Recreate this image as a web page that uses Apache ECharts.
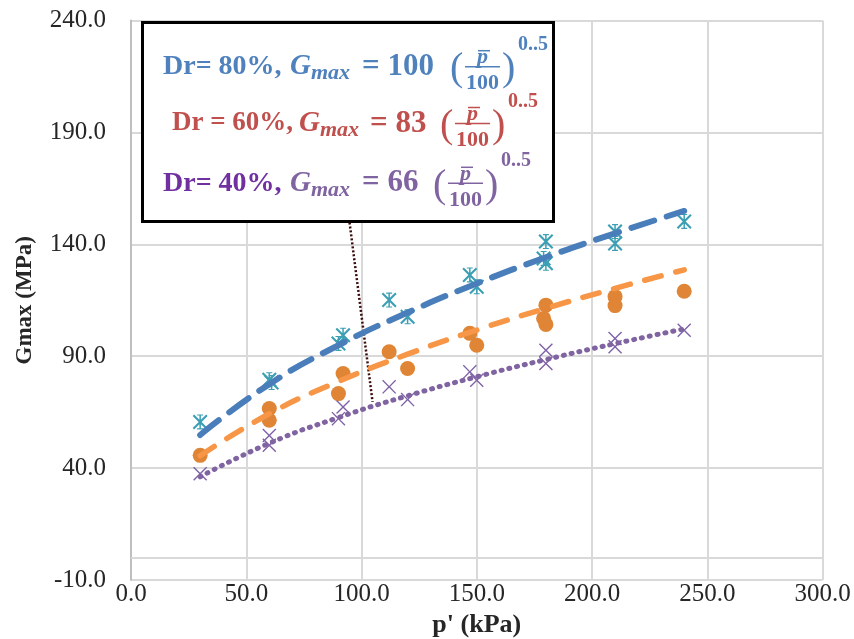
<!DOCTYPE html>
<html>
<head>
<meta charset="utf-8">
<script src="https://cdn.jsdelivr.net/npm/echarts@6/dist/echarts.min.js"></script>
<style>
  html, body { margin: 0; padding: 0; background: #fff; }
  #chart { width: 854px; height: 639px; }
</style>
</head>
<body>
<div id="chart"></div>
<script>
// measured points, [p' (kPa), Gmax (MPa)]
const dr80 = [[30, 60.6], [60, 79.5], [61, 78.2], [90, 95.7], [92, 99.4], [112, 115.1], [120, 107.6],
  [147, 126.3], [150, 121.0], [180, 141.2], [179, 133.7], [180, 131.5], [210, 145.7], [210, 140.4], [240, 150.2]];
const dr60 = [[30, 45.7], [60, 66.6], [60, 61.4], [92, 82.3], [90, 73.3], [112, 92.0], [120, 84.5],
  [147, 100.2], [150, 94.9], [180, 112.8], [179, 106.9], [180, 104.2], [210, 116.6], [210, 112.6], [240, 119.0]];
const dr40 = [[30, 37.5], [60, 54.6], [60, 50.2], [92, 67.3], [90, 62.1], [112, 76.3], [120, 70.6],
  [147, 83.0], [150, 79.3], [180, 92.7], [180, 86.7], [210, 97.9], [210, 94.2], [240, 101.6]];

// fitted curves
const fitP = [30, 60, 90, 120, 150, 180, 210, 240];
const fit80 = [54.8, 77.5, 94.9, 109.5, 122.5, 134.2, 144.9, 154.9];
const fit60 = [45.5, 64.3, 78.7, 90.9, 101.7, 111.4, 120.3, 128.6];
const fit40 = [36.1, 51.1, 62.6, 72.3, 80.8, 88.5, 95.6, 102.2];

// leader line from the label box
const leader = [[94.6, 151.5], [104.8, 69.6]];

const serif = 'Liberation Serif';
const starPath = 'path://M0,2 L2,0 L10,8 L18,0 L20,2 L12,10 L20,18 L18,20 L10,12 L2,20 L0,18 L8,10 Z' +
  ' M9,0 L11,0 L11,20 L9,20 Z M6,0 L14,0 L14,1.5 L6,1.5 Z M6,18.5 L14,18.5 L14,20 L6,20 Z';
const crossPath = 'path://M0,1.4 L1.4,0 L10,8.6 L18.6,0 L20,1.4 L11.4,10 L20,18.6 L18.6,20 L10,11.4 L1.4,20 L0,18.6 L8.6,10 Z';

function txt(x, y, s, font, fill) {
    return { type: 'text', x: x, y: y, z: 60,
        style: { text: s, font: font, fill: fill, textAlign: 'left', textVerticalAlign: 'middle' } };
}

// one equation line of the label box
function eqLine(c) {
    const fx = c.paren + 33;
    return [
        txt(c.drX, c.y, c.dr, `bold ${c.drSize}px "${serif}"`, c.drColor),
        txt(c.gX, c.y, 'G', `italic bold 29px "${serif}"`, c.color),
        txt(c.gX + 21, c.y + 7, 'max', `italic bold 22px "${serif}"`, c.color),
        txt(c.eqX, c.y, c.coef, `bold 31px "${serif}"`, c.color),
        txt(c.paren, c.y + 3, '(', `40px "${serif}"`, c.color),
        txt(fx - 6, c.y - 9, 'p', `italic bold 22px "${serif}"`, c.color),
        { type: 'line', z: 60, shape: { x1: fx - 5, y1: c.y - 16, x2: fx + 7, y2: c.y - 16 },
          style: { stroke: c.color, lineWidth: 1.5 } },
        { type: 'line', z: 60, shape: { x1: fx - 18, y1: c.y, x2: fx + 17, y2: c.y },
          style: { stroke: c.color, lineWidth: 1.5 } },
        txt(fx - 17, c.y + 17, '100', `bold 22px "${serif}"`, c.color),
        txt(c.paren + 52, c.y + 3, ')', `40px "${serif}"`, c.color),
        txt(c.paren + 68, c.y - 22, '0..5', `bold 20px "${serif}"`, c.color)
    ];
}

const box = [
    { type: 'rect', z: 50, shape: { x: 142.5, y: 22.5, width: 411, height: 199 },
      style: { fill: '#ffffff', stroke: '#000000', lineWidth: 3 } }
].concat(
    eqLine({ y: 66.7, drX: 163, dr: 'Dr= 80%,', drSize: 28, gX: 290, eqX: 362, coef: '= 100', paren: 450,
             drColor: '#4f81bd', color: '#4f81bd' }),
    eqLine({ y: 123.5, drX: 172, dr: 'Dr = 60%,', drSize: 27, gX: 299, eqX: 370, coef: '= 83', paren: 440,
             drColor: '#c0504d', color: '#c0504d' }),
    eqLine({ y: 183.3, drX: 163, dr: 'Dr= 40%,', drSize: 28, gX: 290, eqX: 362, coef: '= 66', paren: 433,
             drColor: '#7030a0', color: '#8064a2' })
);

const chart = echarts.init(document.getElementById('chart'));

chart.setOption({
    animation: false,
    backgroundColor: '#ffffff',
    grid: { left: 131, right: 31.5, top: 20.5, bottom: 59, outerBoundsMode: 'none', containLabel: false },
    xAxis: {
        type: 'value', min: 0, max: 300, interval: 50,
        name: "p' (kPa)", nameLocation: 'middle', nameGap: 31,
        nameTextStyle: { fontFamily: serif, fontWeight: 'bold', fontSize: 26, color: '#262626' },
        axisLine: { show: false },
        axisTick: { show: false },
        axisLabel: { formatter: v => v.toFixed(1), fontFamily: serif, fontSize: 25, color: '#262626', margin: 2 },
        splitLine: { lineStyle: { color: '#d9d9d9', width: 2 } }
    },
    yAxis: {
        type: 'value', min: -10, max: 240, interval: 50,
        name: 'Gmax (MPa)', nameLocation: 'middle', nameGap: 94,
        nameTextStyle: { fontFamily: serif, fontWeight: 'bold', fontSize: 23, color: '#262626' },
        axisLine: { show: true, lineStyle: { color: '#bfbfbf', width: 2 } },
        axisTick: { show: false },
        axisLabel: { formatter: v => v.toFixed(1), fontFamily: serif, fontSize: 25, color: '#262626', margin: 25 },
        splitLine: { lineStyle: { color: '#d9d9d9', width: 2 } }
    },
    graphic: box,
    series: [
        {
            type: 'line', data: leader, symbol: 'none', silent: true,
            lineStyle: { color: '#3d0c0c', width: 2.5, type: [2, 2] },
            markLine: {
                silent: true, symbol: 'none', label: { show: false },
                lineStyle: { color: '#d9d9d9', width: 2, type: 'solid' },
                data: [{ yAxis: 0 }]
            }
        },
        {
            type: 'line', data: fitP.map((p, i) => [p, fit80[i]]), smooth: 0.5, symbol: 'none',
            lineStyle: { color: '#4a7ebb', width: 6, type: [24, 13], cap: 'round' }
        },
        {
            type: 'line', data: fitP.map((p, i) => [p, fit60[i]]), smooth: 0.5, symbol: 'none',
            lineStyle: { color: '#f79646', width: 5.5, type: [17, 15], cap: 'round' }
        },
        {
            type: 'line', data: fitP.map((p, i) => [p, fit40[i]]), smooth: 0.5, symbol: 'none',
            lineStyle: { color: '#8064a2', width: 5, type: [1, 7], cap: 'round' }
        },
        {
            type: 'scatter', data: dr80, symbol: starPath, symbolSize: 15,
            itemStyle: { color: '#3c9fb4', opacity: 1 }
        },
        {
            type: 'scatter', data: dr60, symbol: 'circle', symbolSize: 15,
            itemStyle: { color: '#df8535', opacity: 1 }
        },
        {
            type: 'scatter', data: dr40, symbol: crossPath, symbolSize: 14,
            itemStyle: { color: '#7e62a8', opacity: 1 }
        }
    ]
});
</script>
</body>
</html>
